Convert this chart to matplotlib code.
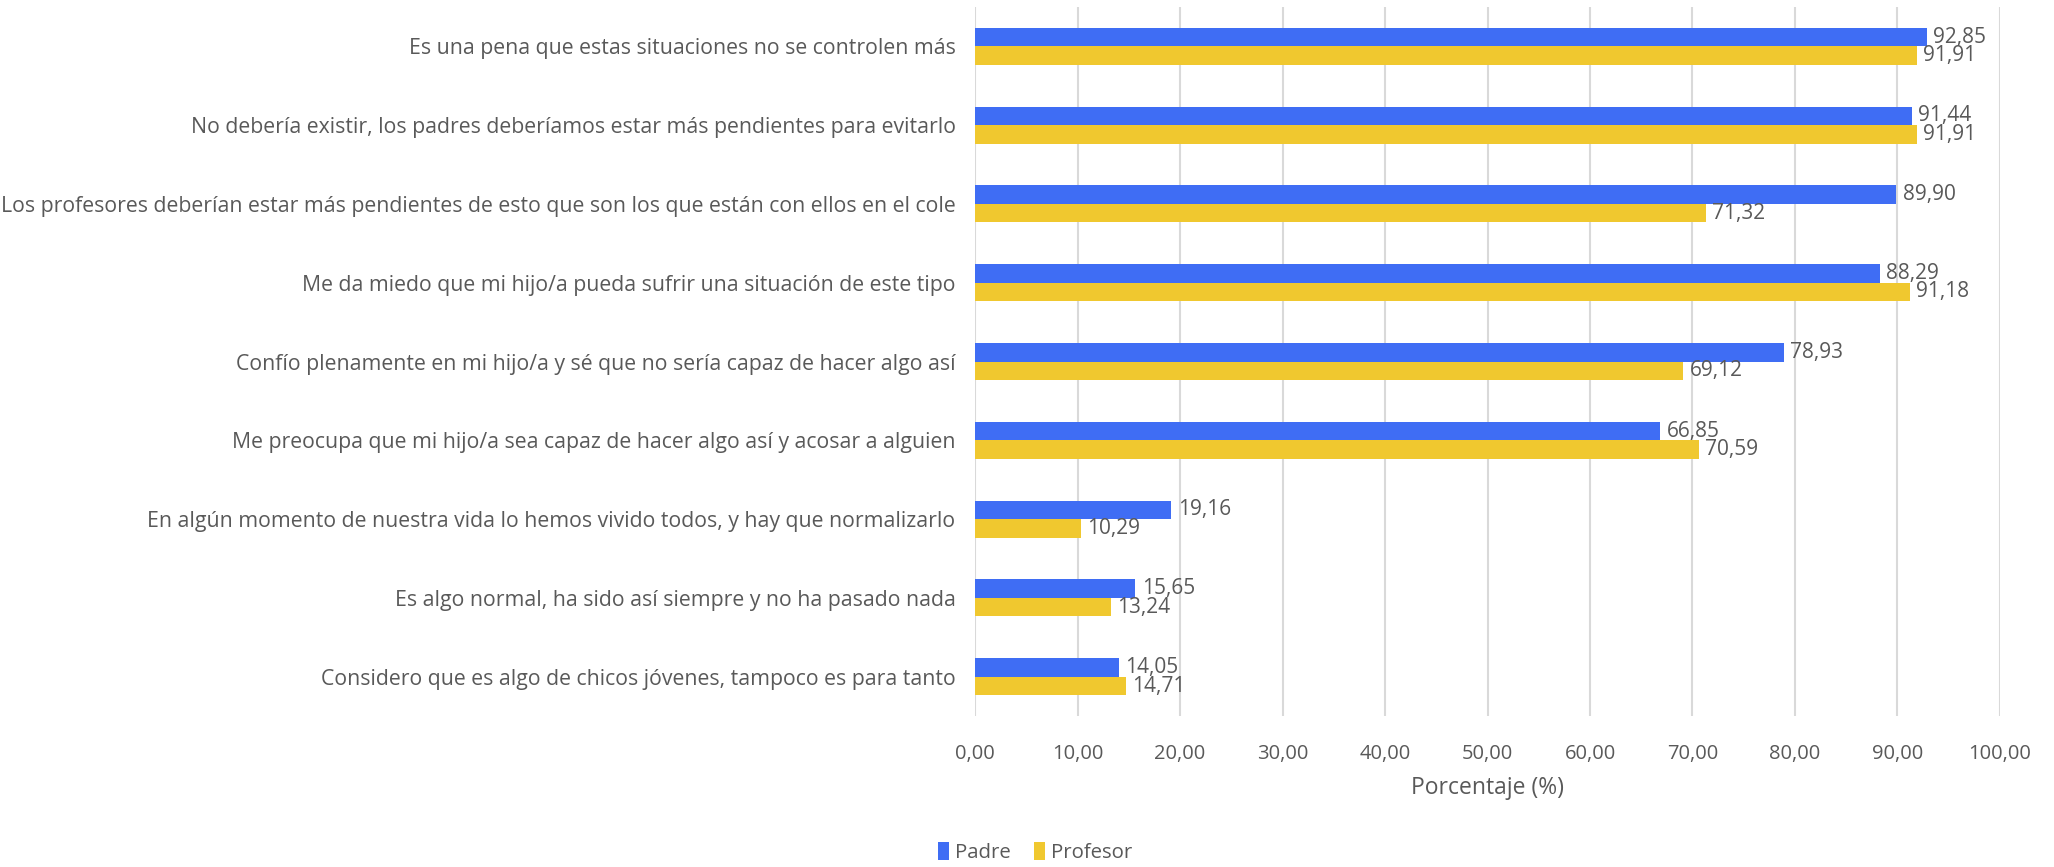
import matplotlib.pyplot as plt
import numpy as np
from matplotlib.ticker import FuncFormatter, MultipleLocator

# ================================================================
# DATA
# ================================================================

categories = [
    "Es una pena que estas situaciones no se controlen más",
    "No debería existir, los padres deberíamos estar más pendientes para evitarlo",
    "Los profesores deberían estar más pendientes de esto que son los que están con ellos en el cole",
    "Me da miedo que mi hijo/a pueda sufrir una situación de este tipo",
    "Confío plenamente en mi hijo/a y sé que no sería capaz de hacer algo así",
    "Me preocupa que mi hijo/a sea capaz de hacer algo así y acosar a alguien",
    "En algún momento de nuestra vida lo hemos vivido todos, y hay que normalizarlo",
    "Es algo normal, ha sido así siempre y no ha pasado nada",
    "Considero que es algo de chicos jóvenes, tampoco es para tanto",
]
padre = [92.85, 91.44, 89.90, 88.29, 78.93, 66.85, 19.16, 15.65, 14.05]
profesor = [91.91, 91.91, 71.32, 91.18, 69.12, 70.59, 10.29, 13.24, 14.71]

BLUE = "#3F6DF4"
YELLOW = "#F0C82F"
TEXT = "#595959"

plt.rcParams["font.family"] = ["Open Sans", "DejaVu Sans"]

def comma(v, pos=None):
    return f"{v:.2f}".replace(".", ",")

# ================================================================
# PLOT
# ================================================================

fig = plt.figure(figsize=(20.54, 8.67), dpi=100)
ax = fig.add_axes([0.4747, 0.174, 0.499, 0.818])

y = np.arange(len(categories))
h = 0.235
b1 = ax.barh(y - h / 2, padre, height=h, color=BLUE, label="Padre", zorder=3)
b2 = ax.barh(y + h / 2, profesor, height=h, color=YELLOW, label="Profesor", zorder=3)

for bars, vals in ((b1, padre), (b2, profesor)):
    for bar, v in zip(bars, vals):
        ax.annotate(comma(v), (v, bar.get_y() + bar.get_height() / 2),
                    xytext=(4.5, 0), textcoords="offset points",
                    ha="left", va="center", fontsize=15, color=TEXT)

ax.set_xlim(0, 100)
ax.set_ylim(len(categories) - 0.5, -0.5)
ax.xaxis.set_major_locator(MultipleLocator(10))
ax.xaxis.set_major_formatter(FuncFormatter(comma))
ax.set_yticks(y)
ax.set_yticklabels(categories, fontsize=15.3)

ax.grid(axis="x", color="#D9D9D9", linewidth=1.5, zorder=0)
for s in ax.spines.values():
    s.set_visible(False)
ax.tick_params(axis="both", length=0, labelcolor=TEXT)
ax.tick_params(axis="x", pad=20, labelsize=14.5)
ax.tick_params(axis="y", pad=14)

ax.set_xlabel("Porcentaje (%)", fontsize=16.5, color=TEXT, labelpad=9)

fig.legend(handles=[b1, b2], loc="center", bbox_to_anchor=(0.504, 0.017),
           ncol=2, frameon=False, fontsize=14.7, labelcolor=TEXT,
           handlelength=0.55, handleheight=1.0, handletextpad=0.3,
           columnspacing=1.1)

fig.savefig("out.png", dpi=100)
